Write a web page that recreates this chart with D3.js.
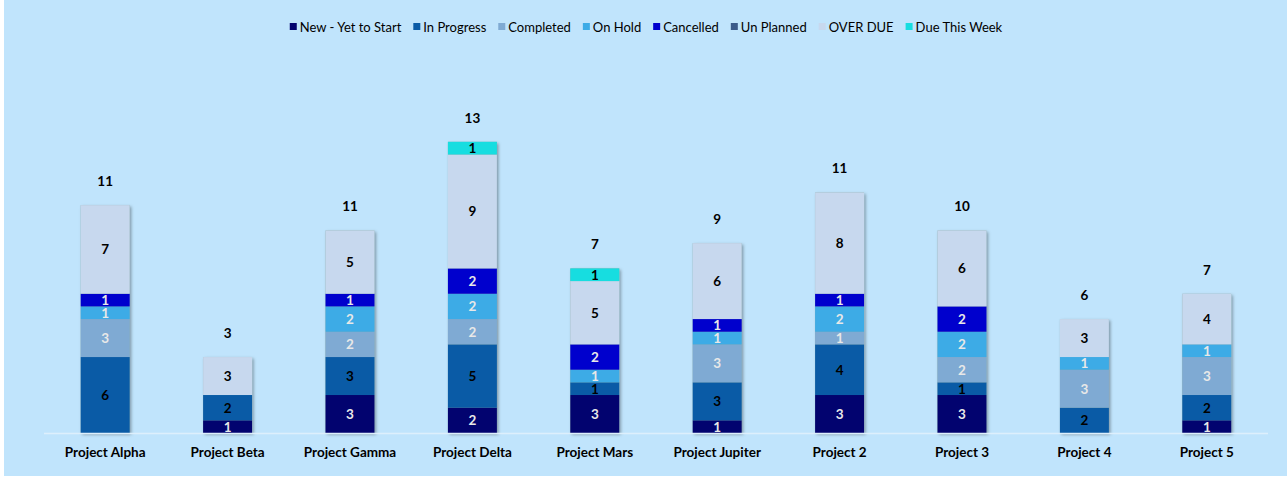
<!DOCTYPE html>
<html>
<head>
<meta charset="utf-8">
<script src="https://cdnjs.cloudflare.com/ajax/libs/d3/7.8.5/d3.min.js"></script>
<style>
  body { margin: 0; background: #fff; }
  svg { display: block; font-family: Lato, "Open Sans", sans-serif; }
</style>
</head>
<body>
<svg id="chart"></svg>
<script>
var projects = ["Project Alpha", "Project Beta", "Project Gamma", "Project Delta", "Project Mars",
                "Project Jupiter", "Project 2", "Project 3", "Project 4", "Project 5"];
var statuses = ["New - Yet to Start", "In Progress", "Completed", "On Hold", "Cancelled",
                "Un Planned", "OVER DUE", "Due This Week"];

var newYetToStart = [0, 1, 3, 2, 3, 1, 3, 3, 0, 1];
var inProgress    = [6, 2, 3, 5, 1, 3, 4, 1, 2, 2];
var completed     = [3, 0, 2, 2, 0, 3, 1, 2, 3, 3];
var onHold        = [1, 0, 2, 2, 1, 1, 2, 2, 1, 1];
var cancelled     = [1, 0, 1, 2, 2, 1, 1, 2, 0, 0];
var unPlanned     = [0, 0, 0, 0, 0, 0, 0, 0, 0, 0];
var overDue       = [7, 3, 5, 9, 5, 6, 8, 6, 3, 4];
var dueThisWeek   = [0, 0, 0, 1, 1, 0, 0, 0, 0, 0];
var totals        = [11, 3, 11, 13, 7, 9, 11, 10, 6, 7];

var colours = ["#02036F", "#0A5BA6", "#7FAAD3", "#3DABE6", "#0000CD", "#3A5A8A", "#C7D8EE", "#17DDE0"];
var labelColours = ["#e8e8e8", "#000", "#e8e8e8", "#e8e8e8", "#e8e8e8", "#fff", "#000", "#000"];

var seriesValues = [newYetToStart, inProgress, completed, onHold, cancelled, unPlanned, overDue, dueThisWeek];

var W = 1287, H = 478;
var margin = {top: 45, right: 19, bottom: 45, left: 44};
var width = W - margin.left - margin.right;
var height = 433 - margin.top;

var svg = d3.select("#chart").attr("width", W).attr("height", H);

svg.append("rect").attr("x", 4).attr("y", 0).attr("width", W - 4).attr("height", 476).attr("fill", "#C0E4FC");

var defs = svg.append("defs");
var f = defs.append("filter").attr("id", "shadow").attr("x", "-20%").attr("y", "-20%").attr("width", "140%").attr("height", "140%");
f.append("feDropShadow").attr("dx", 1.5).attr("dy", 1.5).attr("stdDeviation", 1.5).attr("flood-color", "#000").attr("flood-opacity", 0.35);

var rows = projects.map(function(p, i) {
  var r = {project: p};
  statuses.forEach(function(s, k) { r[s] = seriesValues[k][i]; });
  return r;
});

var stack = d3.stack().keys(statuses)(rows);

var x = d3.scaleBand().domain(projects).range([0, width]).paddingInner(0.6).paddingOuter(0.3);
var y = d3.scaleLinear().domain([0, 23]).range([height, height - 23 * 12.66]);

var chart = svg.append("g").attr("transform", "translate(" + margin.left + "," + margin.top + ")");

var colour = d3.scaleOrdinal().domain(statuses).range(colours);

// bar shadows: one rect per stack
chart.selectAll(".bar-shadow")
  .data(rows)
  .enter().append("rect")
  .attr("x", function(d) { return x(d.project); })
  .attr("width", x.bandwidth())
  .attr("y", function(d, i) { return y(stack[stack.length - 1][i][1]); })
  .attr("height", function(d, i) { return y(0) - y(stack[stack.length - 1][i][1]); })
  .attr("fill", "#8aa")
  .attr("filter", "url(#shadow)");

var layer = chart.selectAll(".layer")
  .data(stack)
  .enter().append("g")
  .attr("class", "layer")
  .attr("fill", function(d) { return colour(d.key); });

layer.selectAll("rect")
  .data(function(d) { return d; })
  .enter().append("rect")
  .attr("x", function(d) { return x(d.data.project); })
  .attr("width", x.bandwidth())
  .attr("y", function(d) { return y(d[1]); })
  .attr("height", function(d) { return y(d[0]) - y(d[1]); });

// baseline
chart.append("line")
  .attr("x1", 0).attr("x2", width)
  .attr("y1", height + 0.5).attr("y2", height + 0.5)
  .attr("stroke", "#DDEFFC").attr("stroke-width", 1.5);

// segment labels
stack.forEach(function(s, k) {
  chart.append("g").selectAll("text")
    .data(s.filter(function(d) { return d[1] - d[0] > 0; }))
    .enter().append("text")
    .attr("x", function(d) { return x(d.data.project) + x.bandwidth() / 2; })
    .attr("y", function(d) { return (y(d[0]) + y(d[1])) / 2; })
    .attr("dy", "0.36em")
    .attr("text-anchor", "middle")
    .attr("font-size", 13.5)
    .attr("font-weight", "bold")
    .attr("fill", labelColours[k])
    .text(function(d) { return d[1] - d[0]; });
});

// total labels
chart.append("g").selectAll("text")
  .data(rows)
  .enter().append("text")
  .attr("x", function(d) { return x(d.project) + x.bandwidth() / 2; })
  .attr("y", function(d, i) { return y(stack[stack.length - 1][i][1]) - 24; })
  .attr("dy", "0.36em")
  .attr("text-anchor", "middle")
  .attr("font-size", 13.5)
  .attr("font-weight", "bold")
  .attr("fill", "#000")
  .text(function(d, i) { return totals[i]; });

// x axis labels
var xAxis = d3.axisBottom(x).tickSize(0).tickPadding(14);
var ax = chart.append("g").attr("transform", "translate(0," + height + ")").call(xAxis);
ax.select(".domain").remove();
ax.selectAll("text").attr("font-size", 13.5).attr("font-weight", "bold").attr("fill", "#000")
  .attr("font-family", "Lato, sans-serif");

// legend
var legend = svg.append("g").attr("transform", "translate(0,27)");
var lx = 0;
var items = legend.selectAll(".legend")
  .data(statuses)
  .enter().append("g")
  .attr("class", "legend");
items.append("rect").attr("width", 7).attr("height", 7).attr("y", -4)
  .attr("fill", function(d) { return colour(d); });
items.append("text").attr("x", 10).attr("dy", "0.35em")
  .attr("font-size", 13).attr("fill", "#000").text(function(d) { return d; });
items.each(function() {
  var g = d3.select(this);
  g.attr("transform", "translate(" + lx + ",0)");
  lx += 10 + g.select("text").node().getComputedTextLength() + 12;
});
legend.attr("transform", "translate(" + (646 - (lx - 12) / 2) + ",27)");
</script>
</body>
</html>
